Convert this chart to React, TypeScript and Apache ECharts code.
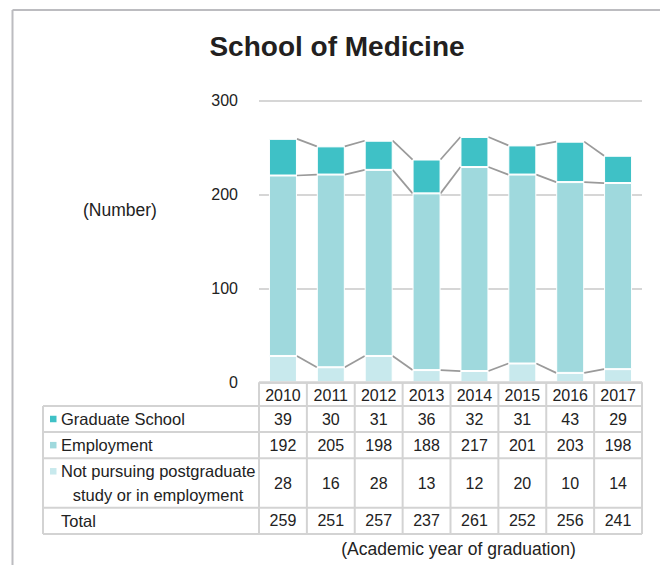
import React, { useEffect, useRef } from "react";
import * as echarts from "echarts";

const years = ["2010", "2011", "2012", "2013", "2014", "2015", "2016", "2017"];
const graduateSchool = [39, 30, 31, 36, 32, 31, 43, 29];
const employment = [192, 205, 198, 188, 217, 201, 203, 198];
const notPursuing = [28, 16, 28, 13, 12, 20, 10, 14];
const totals = [259, 251, 257, 237, 261, 252, 256, 241];

const seriesNames = ["Graduate School", "Employment", "Not pursuing postgraduate study or in employment"];
const colors = { grad: "#3fc1c6", emp: "#9fd9dd", not: "#c8e9ed" };

const FONT = "'Liberation Sans', Arial, sans-serif";
const TEXT = "#222222";

export default function App() {
  const ref = useRef<HTMLDivElement>(null);

  useEffect(() => {
    document.body.style.margin = "0";
    const chart = echarts.init(ref.current!, null, { renderer: "svg" });
    const barWidth = 28;

    const linkData = years.slice(0, -1).map((_, i) => {
      const a1 = notPursuing[i];
      const a2 = a1 + employment[i];
      const a3 = a2 + graduateSchool[i];
      const b1 = notPursuing[i + 1];
      const b2 = b1 + employment[i + 1];
      const b3 = b2 + graduateSchool[i + 1];
      return [i, a1, a2, a3, b1, b2, b3];
    });

    chart.setOption({
      animation: false,
      grid: { left: 259, top: 100.3, width: 383, height: 282 },
      xAxis: {
        type: "category",
        data: years,
        axisLine: { show: false },
        axisTick: { show: false },
        axisLabel: { show: false },
      },
      yAxis: {
        type: "value",
        min: 0,
        max: 300,
        interval: 100,
        axisLine: { show: false },
        axisTick: { show: false },
        axisLabel: { fontSize: 16, color: TEXT, margin: 21, fontFamily: FONT },
        splitLine: { lineStyle: { color: "#d6d6d6", width: 2 } },
      },
      series: [
        {
          type: "bar",
          name: seriesNames[2],
          stack: "total",
          data: notPursuing,
          barWidth,
          itemStyle: { color: colors.not, borderColor: "#ffffff", borderWidth: 1 },
        },
        {
          type: "bar",
          name: seriesNames[1],
          stack: "total",
          data: employment,
          barWidth,
          itemStyle: { color: colors.emp, borderColor: "#ffffff", borderWidth: 1 },
        },
        {
          type: "bar",
          name: seriesNames[0],
          stack: "total",
          data: graduateSchool,
          barWidth,
          itemStyle: { color: colors.grad, borderColor: "#ffffff", borderWidth: 1 },
        },
        {
          type: "custom",
          silent: true,
          data: linkData,
          encode: { x: 0, y: [1, 2, 3, 4, 5, 6] },
          renderItem: (_params: any, api: any) => {
            const i = api.value(0);
            const half = barWidth / 2;
            const children = [1, 2, 3].map((k) => {
              const p0 = api.coord([i, api.value(k)]);
              const p1 = api.coord([i + 1, api.value(k + 3)]);
              return {
                type: "line",
                shape: { x1: p0[0] + half, y1: p0[1], x2: p1[0] - half, y2: p1[1] },
                style: { stroke: "#9a9a9a", lineWidth: 1.75 },
              };
            });
            return { type: "group", children };
          },
        },
      ],
    });

    // Data table under the plot, aligned with the category axis
    const centers = years.map((_, i) => chart.convertToPixel({ xAxisIndex: 0 }, i) as number);
    const colW = centers[1] - centers[0];
    const tableLeft = 43;
    const colStart = centers[0] - colW / 2;
    const colEnd = centers[centers.length - 1] + colW / 2;
    const headerTop = 382.3;
    const rowLines = [406, 432, 458.3, 507.7, 534];
    const lineColor = "#d3d3d3";
    const g: any[] = [];

    const hLine = (y: number, x1: number, x2: number) =>
      g.push({ type: "line", shape: { x1, y1: y, x2, y2: y }, style: { stroke: lineColor, lineWidth: 2 }, z: 10 });
    const vLine = (x: number, y1: number, y2: number) =>
      g.push({ type: "line", shape: { x1: x, y1, x2: x, y2 }, style: { stroke: lineColor, lineWidth: 2 }, z: 10 });

    hLine(headerTop, colStart, colEnd);
    rowLines.forEach((y) => hLine(y, tableLeft, colEnd));
    vLine(tableLeft, rowLines[0], rowLines[rowLines.length - 1]);
    for (let i = 0; i <= years.length; i++) {
      vLine(colStart + i * colW, headerTop, rowLines[rowLines.length - 1]);
    }

    const txt = (text: string, x: number, y: number, align: string, size = 16) =>
      g.push({
        type: "text",
        x,
        y,
        z: 11,
        style: { text, fill: TEXT, font: `${size}px ${FONT}`, textAlign: align, textVerticalAlign: "middle" },
      });

    const rowValues = [graduateSchool, employment, notPursuing, totals];
    const rowColors = [colors.grad, colors.emp, colors.not, null];
    years.forEach((yr, i) => txt(yr, centers[i], (headerTop + rowLines[0]) / 2 + 1, "center"));
    rowValues.forEach((vals, r) => {
      const cy = (rowLines[r] + rowLines[r + 1]) / 2;
      vals.forEach((v, i) => txt(String(v), centers[i], cy, "center"));
    });

    // Row labels with legend markers
    const labelX = 61;
    const markerX = 50;
    const markerSize = 6.5;
    const labelY = [
      (rowLines[0] + rowLines[1]) / 2,
      (rowLines[1] + rowLines[2]) / 2,
      rowLines[2] + 13,
      (rowLines[3] + rowLines[4]) / 2,
    ];
    rowColors.forEach((c, r) => {
      if (c) {
        g.push({
          type: "rect",
          z: 11,
          shape: { x: markerX, y: labelY[r] - markerSize / 2, width: markerSize, height: markerSize },
          style: { fill: c },
        });
      }
    });
    txt(seriesNames[0], labelX, labelY[0], "left", 16.5);
    txt(seriesNames[1], labelX, labelY[1], "left", 16.5);
    txt("Not pursuing postgraduate", labelX, labelY[2], "left", 16.5);
    txt("study or in employment", 158, labelY[2] + 24, "center", 16.5);
    txt("Total", labelX, labelY[3], "left", 16.5);

    // Titles
    g.push({
      type: "text",
      x: 337,
      y: 46,
      style: { text: "School of Medicine", fill: "#231f20", font: `bold 28px ${FONT}`, textAlign: "center", textVerticalAlign: "middle" },
    });
    g.push({
      type: "text",
      x: 120,
      y: 209.5,
      style: { text: "(Number)", fill: TEXT, font: `17.5px ${FONT}`, textAlign: "center", textVerticalAlign: "middle" },
    });
    g.push({
      type: "text",
      x: 458.5,
      y: 549,
      style: { text: "(Academic year of graduation)", fill: TEXT, font: `17.5px ${FONT}`, textAlign: "center", textVerticalAlign: "middle" },
    });

    // Outer frame (left and top edges)
    g.push({ type: "line", shape: { x1: 12.5, y1: 10, x2: 660, y2: 10 }, style: { stroke: "#bcbcc0", lineWidth: 2 } });
    g.push({ type: "line", shape: { x1: 12.5, y1: 10, x2: 12.5, y2: 565 }, style: { stroke: "#bcbcc0", lineWidth: 2 } });

    chart.setOption({ graphic: g });

    return () => chart.dispose();
  }, []);

  return <div ref={ref} style={{ position: "absolute", left: 0, top: 0, width: 660, height: 565 }} />;
}
